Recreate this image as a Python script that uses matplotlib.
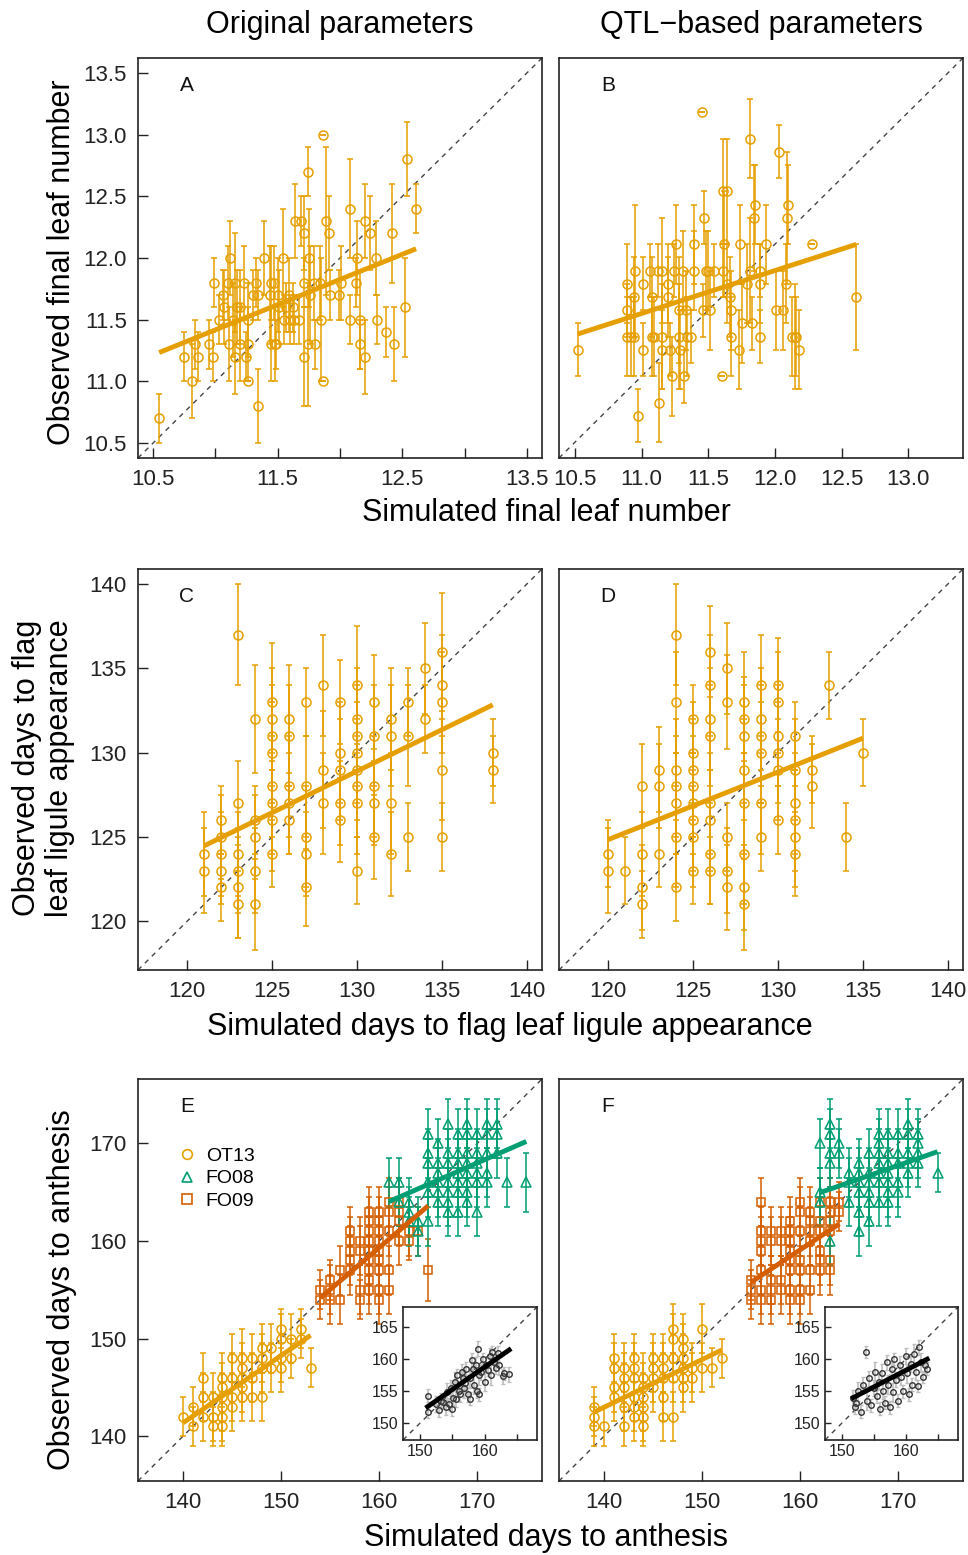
import numpy as np
import matplotlib
matplotlib.use("Agg")
import matplotlib.pyplot as plt
from matplotlib.lines import Line2D

plt.rcParams['font.family'] = ['Liberation Sans', 'DejaVu Sans']

ORANGE = '#E69F00'
GREEN = '#009E73'
VERMIL = '#D55E00'

# ---------------- panel A: final leaf number, original parameters
a_sim = [10.55, 10.75, 10.81, 10.84, 10.86, 10.95, 10.98, 10.99, 11.03, 11.06,
         11.07, 11.10, 11.12, 11.11, 11.14, 11.16, 11.16, 11.17, 11.20, 11.20,
         11.23, 11.25, 11.26, 11.26, 11.26, 11.30, 11.33, 11.34, 11.34, 11.39,
         11.44, 11.45, 11.45, 11.47, 11.48, 11.49, 11.50, 11.51, 11.54, 11.55,
         11.57, 11.59, 11.60, 11.62, 11.63, 11.64, 11.67, 11.69, 11.71, 11.71,
         11.71, 11.74, 11.74, 11.75, 11.76, 11.79, 11.80, 11.85, 11.86, 11.86,
         11.84, 11.89, 11.91, 11.92, 11.99, 12.01, 12.08, 12.08, 12.13, 12.14,
         12.16, 12.16, 12.20, 12.20, 12.24, 12.29, 12.30, 12.37, 12.42, 12.43,
         12.52, 12.54, 12.61]
a_obs = [10.7, 11.2, 11.0, 11.3, 11.2, 11.3, 11.2, 11.8, 11.5, 11.7,
         11.6, 11.8, 12.0, 11.3, 11.5, 11.2, 11.8, 11.6, 11.3, 11.6,
         11.8, 11.2, 11.5, 11.3, 11.0, 11.7, 11.8, 11.7, 10.8, 12.0,
         11.7, 11.8, 11.3, 11.8, 11.3, 11.3, 11.7, 11.6, 12.0, 11.5,
         11.6, 11.7, 11.5, 11.6, 11.5, 12.3, 11.5, 12.3, 11.8, 12.2,
         11.2, 11.3, 12.7, 12.0, 11.7, 11.8, 11.3, 11.5, 13.0, 11.0,
         11.8, 12.3, 12.2, 11.7, 11.7, 11.8, 12.4, 11.5, 11.8, 12.0,
         11.5, 11.3, 12.3, 11.2, 12.2, 12.0, 11.5, 11.4, 12.2, 11.3,
         11.6, 12.8, 12.4]
a_err = [0.2, 0.2, 0.3, 0.2, 0.2, 0.2, 0.2, 0.2, 0.2, 0.2,
         0.3, 0.3, 0.3, 0.3, 0.3, 0.3, 0.4, 0.3, 0.3, 0.3,
         0.3, 0.2, 0.3, 0.3, 0.0, 0.2, 0.2, 0.2, 0.3, 0.3,
         0.4, 0.3, 0.3, 0.3, 0.3, 0.2, 0.3, 0.3, 0.4, 0.2,
         0.2, 0.3, 0.2, 0.2, 0.2, 0.3, 0.2, 0.2, 0.2, 0.3,
         0.4, 0.5, 0.2, 0.4, 0.4, 0.3, 0.2, 0.5, 0.0, 0.0,
         0.3, 0.6, 0.3, 0.2, 0.2, 0.3, 0.4, 0.2, 0.2, 0.3,
         0.4, 0.2, 0.3, 0.3, 0.3, 0.3, 0.2, 0.2, 0.4, 0.3,
         0.4, 0.3, 0.2]
a_fit = (6.93, 0.408)

# ---------------- panel B: final leaf number, QTL-based parameters
b_sim = [10.52, 10.89, 10.89, 10.89, 10.92, 10.94, 10.95, 10.94, 10.97, 11.01,
         11.01, 11.06, 11.08, 11.08, 11.09, 11.12, 11.13, 11.15, 11.15, 11.15,
         11.20, 11.20, 11.21, 11.23, 11.24, 11.26, 11.28, 11.28, 11.29, 11.31,
         11.32, 11.33, 11.34, 11.37, 11.39, 11.39, 11.45, 11.46, 11.47, 11.48,
         11.50, 11.51, 11.54, 11.60, 11.61, 11.62, 11.61, 11.64, 11.64, 11.66,
         11.67, 11.67, 11.73, 11.74, 11.75, 11.79, 11.81, 11.81, 11.83, 11.84,
         11.85, 11.89, 11.89, 11.89, 11.93, 12.01, 12.03, 12.06, 12.08, 12.09,
         12.10, 12.13, 12.15, 12.16, 12.18, 12.28, 12.61]
b_obs = [11.2, 11.7, 11.5, 11.3, 11.3, 11.6, 11.8, 11.3, 10.7, 11.7,
         11.2, 11.8, 11.6, 11.3, 11.3, 11.8, 10.8, 11.8, 11.3, 11.2,
         11.6, 11.7, 11.2, 11.0, 11.8, 12.0, 11.5, 11.3, 11.2, 11.8,
         11.0, 11.5, 11.3, 11.3, 12.0, 11.8, 13.0, 11.5, 12.2, 11.8,
         11.8, 11.5, 11.8, 11.0, 12.4, 12.0, 11.8, 12.4, 11.7, 11.6,
         11.5, 11.3, 11.2, 12.0, 11.4, 11.7, 12.8, 11.8, 11.4, 12.2,
         12.3, 11.8, 11.7, 11.3, 12.0, 11.5, 12.7, 11.5, 11.7, 12.2,
         12.3, 11.3, 11.3, 11.3, 11.2, 12.0, 11.6]
b_err = [0.2, 0.3, 0.2, 0.3, 0.3, 0.3, 0.5, 0.3, 0.2, 0.2,
         0.2, 0.2, 0.3, 0.3, 0.3, 0.2, 0.3, 0.4, 0.4, 0.3,
         0.3, 0.3, 0.2, 0.3, 0.2, 0.3, 0.4, 0.4, 0.3, 0.3,
         0.2, 0.3, 0.3, 0.2, 0.3, 0.3, 0.0, 0.2, 0.2, 0.3,
         0.3, 0.3, 0.2, 0.0, 0.4, 0.4, 0.2, 0.4, 0.3, 0.3,
         0.3, 0.3, 0.3, 0.3, 0.3, 0.3, 0.3, 0.4, 0.2, 0.4,
         0.3, 0.2, 0.3, 0.2, 0.3, 0.3, 0.2, 0.3, 0.3, 0.5,
         0.3, 0.3, 0.4, 0.3, 0.3, 0.0, 0.4]
b_fit = (7.90, 0.325)

# ---------------- panel C: flag leaf ligule appearance, original
c_sim = [121, 121,
         122, 122, 122, 122, 122,
         123, 123, 123, 123, 123, 123,
         124, 124, 124, 124, 124,
         125, 125, 125, 125, 125, 125, 125, 125,
         126, 126, 126, 126, 126,
         127, 127, 127, 127, 127,
         128, 128, 128,
         129, 129, 129, 129, 129,
         130, 130, 130, 130, 130, 130, 130, 130,
         131, 131, 131, 131, 131,
         132, 132, 132, 132,
         133, 133, 133,
         134, 134,
         135, 135, 135, 135, 135,
         138, 138]
c_obs = [124, 123,
         126, 125, 124, 123, 122,
         137, 127, 124, 123, 122, 121,
         132, 126, 125, 123, 121,
         133, 132, 131, 130, 128, 127, 126, 124,
         132, 131, 128, 127, 126,
         133, 128, 125, 124, 122,
         134, 129, 127,
         133, 130, 129, 127, 126,
         134, 132, 131, 130, 129, 128, 127, 123,
         133, 131, 128, 127, 125,
         132, 131, 127, 124,
         133, 131, 125,
         135, 132,
         136, 134, 133, 129, 125,
         130, 129]
c_err = [2.5, 2.5,
         2.0, 2.5, 2.5, 2.0, 2.0,
         3.0, 2.5, 2.5, 2.5, 3.0, 2.0,
         3.2, 2.0, 2.5, 2.5, 2.7,
         3.5, 3.0, 3.0, 3.0, 3.0, 3.0, 3.0, 2.0,
         3.2, 3.0, 3.0, 3.0, 2.0,
         2.0, 3.0, 3.0, 2.5, 2.3,
         3.0, 3.5, 3.0,
         2.5, 3.0, 3.0, 2.5, 2.5,
         3.5, 3.0, 3.0, 3.0, 3.0, 3.0, 3.0, 2.0,
         2.8, 3.0, 3.0, 2.5, 2.5,
         3.0, 3.0, 3.0, 2.5,
         2.0, 3.0, 2.0,
         2.7, 2.0,
         3.5, 3.0, 3.0, 3.0, 2.0,
         2.0, 2.0]
c_fit = (64.94, 0.492)

# ---------------- panel D: flag leaf ligule appearance, QTL-based
d_sim = [120, 120,
         121,
         122, 122, 122, 122,
         123, 123, 123,
         124, 124, 124, 124, 124, 124, 124,
         125, 125, 125, 125, 125, 125, 125, 125,
         126, 126, 126, 126, 126, 126, 126, 126,
         127, 127, 127, 127, 127,
         128, 128, 128, 128, 128, 128, 128, 128,
         129, 129, 129, 129, 129, 129,
         130, 130, 130, 130, 130, 130,
         131, 131, 131, 131, 131, 131,
         132, 132,
         133,
         134,
         135]
d_obs = [124, 123,
         123,
         128, 124, 122, 121,
         129, 128, 124,
         137, 133, 129, 128, 127, 125, 122,
         132, 130, 129, 128, 127, 126, 125, 123,
         136, 134, 132, 131, 127, 126, 124, 123,
         135, 133, 125, 123, 122,
         133, 132, 131, 129, 127, 124, 122, 121,
         134, 132, 131, 130, 127, 125,
         134, 133, 131, 130, 129, 126,
         131, 129, 127, 126, 125, 124,
         129, 128,
         134,
         125,
         130]
d_err = [2.0, 2.5,
         2.0,
         2.5, 2.5, 2.5, 2.0,
         2.5, 2.5, 2.0,
         3.0, 3.0, 3.0, 3.0, 3.0, 3.0, 2.0,
         2.0, 3.0, 3.0, 3.0, 3.0, 3.0, 3.0, 2.0,
         2.7, 3.0, 3.0, 3.0, 3.0, 3.0, 3.0, 2.0,
         2.7, 2.8, 2.0, 2.5, 2.5,
         3.0, 2.5, 3.0, 3.0, 3.0, 3.0, 2.5, 2.7,
         3.0, 3.0, 3.0, 3.0, 3.0, 2.0,
         2.8, 3.0, 3.0, 3.0, 3.0, 2.0,
         2.0, 3.0, 3.0, 3.0, 3.0, 2.5,
         2.0, 2.5,
         2.0,
         2.0,
         2.0]
d_fit = (76.72, 0.401)

# ---------------- panel E: anthesis, original
e_ot_sim = [140, 141, 141, 142, 142, 142, 143, 143, 143,
            144, 144, 144, 144, 144, 144, 145, 145, 145, 145,
            146, 146, 146, 146, 146, 147, 147, 147,
            148, 148, 148, 148, 149, 149,
            150, 150, 150, 150, 151, 151, 152, 152, 153]
e_ot_obs = [142, 143, 141, 146, 144, 142, 144, 142, 141,
            146, 145, 144, 143, 142, 141, 148, 146, 144, 143,
            148, 147, 146, 145, 144, 148, 146, 144,
            149, 148, 147, 144, 149, 147,
            151, 150, 148, 147, 150, 148, 151, 150, 147]
e_ot_err = [2.0, 2.0, 2.0, 2.5, 2.5, 2.5, 2.5, 2.5, 2.0,
            2.5, 2.5, 2.5, 2.5, 2.5, 2.0, 2.5, 2.5, 2.5, 2.5,
            3.0, 2.5, 2.5, 2.5, 2.5, 2.5, 2.5, 2.5,
            2.5, 2.5, 2.5, 2.5, 2.5, 2.5,
            2.0, 2.5, 2.5, 2.5, 2.5, 2.0, 2.0, 2.0, 2.0]
e_ot_fit = (44.76, 0.69)

e_f9_sim = [154, 154, 155, 155, 155, 156, 156,
            157, 157, 157, 157, 157, 158, 158, 158, 158,
            159, 159, 159, 159, 159, 159, 159, 159, 159,
            160, 160, 160, 160, 160, 160, 160, 160, 160,
            161, 161, 161, 161, 161, 162, 162, 162, 162,
            163, 163, 164, 165]
e_f9_obs = [155, 154, 156, 155, 154, 157, 154,
            161, 160, 159, 158, 157, 160, 159, 155, 154,
            163, 162, 161, 160, 159, 158, 157, 156, 155,
            163, 162, 161, 160, 159, 158, 157, 155, 154,
            164, 163, 161, 157, 155, 164, 163, 162, 160,
            161, 160, 161, 157]
e_f9_err = [2.0, 2.0, 2.0, 2.5, 2.5, 2.5, 2.5,
            2.5, 2.5, 2.5, 2.5, 2.5, 2.5, 2.5, 2.5, 2.0,
            2.5, 2.5, 2.5, 2.5, 2.5, 2.5, 2.5, 2.5, 2.5,
            2.5, 2.5, 2.5, 2.5, 2.5, 2.5, 2.5, 2.5, 2.5,
            2.5, 2.5, 2.5, 2.5, 2.5, 2.5, 2.5, 2.5, 2.5,
            2.5, 2.0, 2.5, 3.2]
e_f9_fit = (22.04, 0.858)

e_f8_sim = [161, 162, 162, 163, 163, 163, 164, 164,
            165, 165, 165, 165, 165, 165, 166, 166, 166, 166, 166, 166,
            167, 167, 167, 167, 167, 167, 167, 168, 168, 168, 168, 168, 168, 168,
            169, 169, 169, 169, 169, 169, 169, 169,
            170, 170, 170, 170, 170, 170, 171, 171, 171, 171, 171,
            172, 172, 172, 173, 175]
e_f8_obs = [166, 166, 164, 164, 163, 162, 162, 161,
            171, 169, 168, 166, 165, 162, 170, 168, 167, 166, 165, 164,
            172, 169, 168, 166, 165, 164, 163, 171, 169, 168, 167, 166, 165, 163,
            172, 171, 169, 168, 167, 166, 165, 164,
            171, 169, 168, 167, 166, 163, 172, 171, 169, 167, 166,
            172, 171, 169, 166, 166]
e_f8_err = [2.5, 2.5, 2.5, 2.5, 2.5, 2.5, 2.5, 2.5,
            2.5, 2.5, 2.5, 2.5, 2.5, 2.5, 2.5, 2.5, 2.5, 2.5, 2.5, 2.5,
            2.5, 2.5, 2.5, 2.5, 2.5, 2.5, 2.5, 2.5, 2.5, 2.5, 2.5, 2.5, 2.5, 2.5,
            2.5, 2.5, 2.5, 2.5, 2.5, 2.5, 2.5, 2.5,
            2.5, 2.5, 2.5, 2.5, 2.5, 2.5, 2.5, 2.5, 2.5, 2.5, 2.5,
            2.5, 2.5, 2.5, 2.5, 3.0]
e_f8_fit = (93.2, 0.44)

# ---------------- panel F: anthesis, QTL-based
f_ot_sim = [139, 139, 139, 140, 141, 141, 141, 141,
            142, 142, 142, 142, 142, 143, 143, 143, 143, 143, 143,
            144, 144, 144, 144, 144, 144, 145, 145, 145, 145,
            146, 146, 146, 146, 146, 147, 147, 147, 147, 147,
            148, 148, 148, 148, 148, 148, 149, 149, 150, 150, 151, 152]
f_ot_obs = [143, 142, 141, 141, 148, 147, 145, 144,
            147, 146, 145, 143, 141, 148, 147, 146, 144, 143, 142,
            146, 145, 144, 143, 142, 141, 148, 147, 146, 145,
            148, 147, 146, 144, 142, 151, 150, 148, 146, 142,
            150, 149, 148, 147, 146, 145, 147, 146, 151, 147, 147, 148]
f_ot_err = [2.0, 2.0, 2.0, 2.0, 2.5, 2.5, 2.5, 2.5,
            2.5, 2.5, 2.5, 2.5, 2.0, 2.5, 2.5, 2.5, 2.5, 2.5, 2.5,
            2.5, 2.5, 2.5, 2.5, 2.5, 2.0, 2.5, 2.5, 2.5, 2.5,
            2.5, 2.5, 2.5, 2.5, 2.5, 2.5, 2.5, 2.5, 2.5, 2.5,
            2.5, 2.5, 2.5, 2.5, 2.5, 2.5, 2.5, 2.5, 2.5, 2.5, 2.0, 2.0]
f_ot_fit = (74.5, 0.489)

f_f9_sim = [155, 155, 155, 156, 156, 156, 156, 156, 156, 156,
            157, 157, 157, 157, 157, 158, 158, 158, 158,
            159, 159, 159, 159, 159, 159, 159, 159,
            160, 160, 160, 160, 160, 160, 160,
            161, 161, 161, 161, 161, 161, 162, 162, 162, 162, 162, 162,
            163, 163, 163, 163, 163, 163, 164, 164]
f_f9_obs = [156, 155, 154, 164, 161, 160, 159, 157, 155, 154,
            161, 160, 156, 155, 154, 161, 160, 156, 155,
            162, 161, 160, 159, 158, 157, 155, 154,
            164, 163, 161, 158, 157, 155, 154,
            163, 162, 161, 160, 157, 155, 164, 162, 161, 159, 158, 157,
            164, 163, 162, 161, 158, 157, 164, 163]
f_f9_err = [2.0, 2.0, 2.0, 2.5, 2.5, 2.5, 2.5, 2.5, 2.5, 2.5,
            2.5, 2.5, 2.5, 2.5, 2.5, 2.5, 2.5, 2.5, 2.5,
            2.5, 2.5, 2.5, 2.5, 2.5, 2.5, 2.5, 2.5,
            2.5, 2.5, 2.5, 2.5, 2.5, 2.5, 2.5,
            2.5, 2.5, 2.5, 2.5, 2.5, 2.5, 2.5, 2.5, 2.5, 2.5, 2.5, 2.5,
            2.5, 2.5, 2.5, 2.5, 2.5, 2.5, 2.0, 2.0]
f_f9_fit = (52.86, 0.664)

f_f8_sim = [162, 162, 162, 163, 163, 163, 163, 163, 164, 164,
            165, 165, 165, 166, 166, 166, 166, 166, 166,
            167, 167, 167, 167, 167, 167, 168, 168, 168, 168, 168, 168, 168,
            169, 169, 169, 169, 169, 169, 169, 170, 170, 170, 170, 170,
            171, 171, 171, 171, 171, 172, 172, 172, 172, 174]
f_f8_obs = [170, 165, 164, 172, 171, 169, 168, 160, 170, 169,
            167, 166, 164, 168, 167, 166, 165, 163, 161,
            169, 167, 166, 165, 164, 162, 171, 170, 169, 168, 167, 166, 164,
            171, 169, 168, 167, 166, 165, 164, 171, 169, 168, 166, 165,
            172, 171, 169, 168, 167, 171, 170, 169, 168, 167]
f_f8_err = [2.5, 2.5, 2.5, 2.5, 2.5, 2.5, 2.5, 2.5, 2.5, 2.5,
            2.5, 2.5, 2.5, 2.5, 2.5, 2.5, 2.5, 2.5, 2.5,
            2.5, 2.5, 2.5, 2.5, 2.5, 2.5, 2.5, 2.5, 2.5, 2.5, 2.5, 2.5, 2.5,
            2.5, 2.5, 2.5, 2.5, 2.5, 2.5, 2.5, 2.5, 2.5, 2.5, 2.5, 2.5,
            2.5, 2.5, 2.5, 2.5, 2.5, 2.5, 2.5, 2.5, 2.5, 2.0]
f_f8_fit = (108.25, 0.35)

# ---------------- insets (all environments pooled)
ei_sim = [151.3, 151.2, 152.5, 153.0, 153.3, 153.6, 154.0, 154.2, 154.5, 154.8,
          155.0, 155.2, 155.5, 155.6, 155.8, 156.0, 156.2, 156.5, 156.7, 156.8,
          157.0, 157.2, 157.5, 157.7, 157.8, 158.0, 158.2, 158.4, 158.7, 158.9,
          159.0, 159.1, 159.2, 159.5, 159.8, 160.0, 160.2, 160.6, 160.8, 161.0,
          161.1, 161.5, 161.8, 162.0, 162.3, 162.8, 163.0, 163.8]
ei_obs = [154.3, 151.7, 153.0, 152.0, 153.5, 153.3, 152.5, 154.8, 153.0, 155.5,
          152.2, 154.0, 156.5, 153.8, 157.5, 155.0, 154.5, 158.0, 157.1, 155.5,
          156.2, 158.5, 154.5, 153.8, 157.0, 159.8, 158.5, 156.0, 159.1, 155.0,
          161.6, 157.5, 154.5, 158.0, 160.0, 156.5, 159.0, 158.3, 160.5, 157.5,
          161.1, 159.5, 158.6, 160.9, 159.0, 157.3, 157.8, 157.6]
ei_err = [1.0, 0.8, 1.2, 1.0, 1.2, 1.0, 1.2, 1.5, 1.0, 1.2,
          1.0, 1.2, 1.5, 1.2, 1.0, 1.5, 1.2, 1.2, 1.0, 1.5,
          1.2, 1.0, 1.2, 1.0, 1.5, 1.2, 1.0, 1.5, 1.2, 1.0,
          1.2, 1.5, 1.0, 1.2, 1.0, 1.5, 1.2, 1.0, 1.2, 1.5,
          1.0, 1.2, 1.0, 1.2, 1.5, 1.2, 1.0, 1.2]
ei_fit = (46.75, 0.70)

fi_sim = [151.8, 152.0, 152.3, 152.5, 153.0, 153.3, 153.8, 154.0, 154.3, 154.6,
          155.0, 155.2, 155.5, 155.8, 156.0, 156.3, 156.5, 156.8, 157.0, 157.2,
          157.5, 157.8, 158.0, 158.2, 158.5, 158.8, 159.0, 159.3, 159.6, 160.0,
          160.2, 160.5, 160.8, 161.0, 161.3, 161.5, 161.8, 162.0, 162.3, 162.6,
          163.0, 163.3]
fi_obs = [154.0, 152.5, 153.2, 155.0, 151.8, 156.0, 161.1, 153.5, 157.0, 152.8,
          155.5, 158.0, 154.2, 156.5, 152.3, 157.8, 155.0, 153.2, 159.5, 156.0,
          152.5, 158.5, 154.8, 160.0, 156.8, 153.5, 159.0, 157.2, 155.0, 160.5,
          157.8, 154.5, 159.2, 156.0, 160.8, 158.0, 155.8, 161.8, 159.5, 157.2,
          159.0, 158.5]
fi_err = [1.2, 1.0, 1.2, 1.5, 1.0, 1.2, 1.0, 1.5, 1.2, 1.0,
          1.2, 1.5, 1.0, 1.2, 1.0, 1.5, 1.2, 1.0, 1.2, 1.5,
          1.0, 1.2, 1.5, 1.0, 1.2, 1.0, 1.5, 1.2, 1.0, 1.2,
          1.5, 1.0, 1.2, 1.0, 1.5, 1.2, 1.0, 1.2, 1.5, 1.0,
          1.2, 1.0]
fi_fit = (75.06, 0.52)

W, H = 968, 1555
fig = plt.figure(figsize=(W / 100, H / 100), dpi=100)


def box(l, t, r, b):
    return [l / W, 1 - b / H, (r - l) / W, (b - t) / H]


def draw_group(ax, sim, obs, err, color, marker, ms, fit, lw=3.5):
    ax.errorbar(sim, obs, yerr=err, fmt=marker, ms=ms, mfc='none', mec=color,
                mew=1.1, ecolor=color, elinewidth=1.1, capsize=2.3,
                capthick=1.0, zorder=3)
    xs = np.array([min(sim), max(sim)])
    ax.plot(xs, fit[0] + fit[1] * xs, color=color, lw=lw,
            solid_capstyle='butt', zorder=4)


def style(ax, lim, xt, xtl, yt=None, ytl=None, fs=16, pad=8, tl=7):
    ax.set_xlim(lim)
    ax.set_ylim(lim)
    ax.axline((lim[0], lim[0]), slope=1, color='#444444', lw=1.0,
              ls=(0, (3.5, 3.5)), zorder=1)
    ax.set_xticks(xt)
    ax.set_xticklabels(xtl)
    if yt is None:
        ax.set_yticks([])
    else:
        ax.set_yticks(yt)
        ax.set_yticklabels(ytl)
    ax.tick_params(direction='in', length=tl, width=1.0, labelsize=fs,
                   pad=pad, colors='#222222')
    for s in ax.spines.values():
        s.set_linewidth(1.2)
        s.set_color('#222222')


def letter(ax, s):
    ax.text(0.121, 0.932, s, transform=ax.transAxes, ha='center',
            va='center', fontsize=15, color='#111111')


MS = 6.5

# ---- row 1
ax_a = fig.add_axes(box(138, 58, 542, 458))
draw_group(ax_a, a_sim, a_obs, a_err, ORANGE, 'o', MS, a_fit)
style(ax_a, (10.38, 13.62), np.arange(10.5, 13.51, 0.5),
      ['10.5', '', '11.5', '', '12.5', '', '13.5'],
      np.arange(10.5, 13.51, 0.5),
      ['10.5', '11.0', '11.5', '12.0', '12.5', '13.0', '13.5'])
letter(ax_a, 'A')

ax_b = fig.add_axes(box(559, 58, 963, 458))
draw_group(ax_b, b_sim, b_obs, b_err, ORANGE, 'o', MS, b_fit)
style(ax_b, (10.38, 13.41), np.arange(10.5, 13.01, 0.5),
      ['10.5', '11.0', '11.5', '12.0', '12.5', '13.0'])
letter(ax_b, 'B')

# ---- row 2
ax_c = fig.add_axes(box(138, 569, 542, 970))
draw_group(ax_c, c_sim, c_obs, c_err, ORANGE, 'o', MS, c_fit)
style(ax_c, (117.1, 140.9), [120, 125, 130, 135, 140],
      ['120', '125', '130', '135', '140'],
      [120, 125, 130, 135, 140], ['120', '125', '130', '135', '140'])
letter(ax_c, 'C')

ax_d = fig.add_axes(box(559, 569, 963, 970))
draw_group(ax_d, d_sim, d_obs, d_err, ORANGE, 'o', MS, d_fit)
style(ax_d, (117.1, 140.9), [120, 125, 130, 135, 140],
      ['120', '125', '130', '135', '140'])
letter(ax_d, 'D')

# ---- row 3
lim3 = (135.4, 176.6)
ax_e = fig.add_axes(box(138, 1079, 542, 1481))
draw_group(ax_e, e_ot_sim, e_ot_obs, e_ot_err, ORANGE, 'o', MS, e_ot_fit)
draw_group(ax_e, e_f9_sim, e_f9_obs, e_f9_err, VERMIL, 's', 6.3, e_f9_fit)
draw_group(ax_e, e_f8_sim, e_f8_obs, e_f8_err, GREEN, '^', 7.2, e_f8_fit)
style(ax_e, lim3, [140, 150, 160, 170], ['140', '150', '160', '170'],
      [140, 150, 160, 170], ['140', '150', '160', '170'])
letter(ax_e, 'E')
handles = [Line2D([], [], ls='none', marker='o', ms=7, mfc='none', mec=ORANGE, mew=1.2),
           Line2D([], [], ls='none', marker='^', ms=7.5, mfc='none', mec=GREEN, mew=1.2),
           Line2D([], [], ls='none', marker='s', ms=6.5, mfc='none', mec=VERMIL, mew=1.2)]
ax_e.legend(handles, ['OT13', 'FO08', 'FO09'], loc='upper left',
            bbox_to_anchor=(0.098, 0.83), frameon=False, fontsize=14,
            handlelength=1.0, handletextpad=0.45, labelspacing=0.25,
            borderpad=0, borderaxespad=0)

ax_f = fig.add_axes(box(559, 1079, 963, 1481))
draw_group(ax_f, f_ot_sim, f_ot_obs, f_ot_err, ORANGE, 'o', MS, f_ot_fit)
draw_group(ax_f, f_f9_sim, f_f9_obs, f_f9_err, VERMIL, 's', 6.3, f_f9_fit)
draw_group(ax_f, f_f8_sim, f_f8_obs, f_f8_err, GREEN, '^', 7.2, f_f8_fit)
style(ax_f, lim3, [140, 150, 160, 170], ['140', '150', '160', '170'])
letter(ax_f, 'F')

# ---- insets
for pos, sim, obs, err, fit in [((403, 1307, 537, 1440), ei_sim, ei_obs, ei_err, ei_fit),
                                ((825, 1307, 958, 1440), fi_sim, fi_obs, fi_err, fi_fit)]:
    axi = fig.add_axes(box(*pos))
    axi.set_zorder(10)
    axi.errorbar(sim, obs, yerr=err, fmt='none', ecolor='#BDBDBD',
                 elinewidth=1.2, capsize=1.5, capthick=1.0, zorder=2)
    axi.plot(sim, obs, 'o', ms=4, mfc='none', mec='#333333', mew=1.0, zorder=3)
    xs = np.array([min(sim), max(sim)])
    axi.plot(xs, fit[0] + fit[1] * xs, color='black', lw=3.5, zorder=4)
    style(axi, (147.4, 168.1), [150, 155, 160, 165], ['150', '', '160', ''],
          [150, 155, 160, 165], ['150', '155', '160', '165'], fs=11.5, pad=3, tl=4)

# ---- titles and axis labels
TXT = 22
fig.text(340 / W, 1 - 25 / H, 'Original parameters', ha='center', va='center', fontsize=TXT)
fig.text(761 / W, 1 - 25 / H, 'QTL\u2212based parameters', ha='center', va='center', fontsize=TXT)

fig.text(546 / W, 1 - 513 / H, 'Simulated final leaf number', ha='center', va='center', fontsize=TXT)
fig.text(510 / W, 1 - 1027 / H, 'Simulated days to flag leaf ligule appearance',
         ha='center', va='center', fontsize=TXT)
fig.text(546 / W, 1 - 1538 / H, 'Simulated days to anthesis', ha='center', va='center', fontsize=TXT)

fig.text(62 / W, 1 - 262 / H, 'Observed final leaf number', rotation=90,
         ha='center', va='center', fontsize=TXT)
fig.text(27 / W, 1 - 768 / H, 'Observed days to flag', rotation=90,
         ha='center', va='center', fontsize=TXT)
fig.text(60 / W, 1 - 768 / H, 'leaf ligule appearance', rotation=90,
         ha='center', va='center', fontsize=TXT)
fig.text(62 / W, 1 - 1290 / H, 'Observed days to anthesis', rotation=90,
         ha='center', va='center', fontsize=TXT)

fig.savefig('out.png', dpi=100, facecolor='white')
